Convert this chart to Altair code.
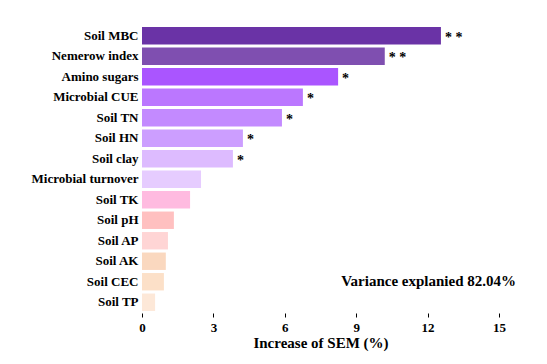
import altair as alt
import pandas as pd

factors = ["Soil MBC", "Nemerow index", "Amino sugars", "Microbial CUE", "Soil TN",
           "Soil HN", "Soil clay", "Microbial turnover", "Soil TK", "Soil pH",
           "Soil AP", "Soil AK", "Soil CEC", "Soil TP"]
values = [12.56, 10.2, 8.24, 6.76, 5.88, 4.24, 3.82, 2.48, 2.02, 1.34, 1.09, 1.0, 0.92, 0.55]
signif = ["* *", "* *", "*", "*", "*", "*", "*", "", "", "", "", "", "", ""]
colors = ["#6A33A6", "#7F4FB0", "#AA55FF", "#BB77FF", "#C38AFF", "#CC9EFF", "#DDBBFF",
          "#E6CCFF", "#FFBBE0", "#FFC0C0", "#FFD5D5", "#FAD8BF", "#FCE0C8", "#FDE8D8"]
annotation = "Variance explanied 82.04%"

df = pd.DataFrame({"factor": factors, "value": values, "sig": signif})

FONT = "'Liberation Serif', 'Times New Roman', Times, serif"

y = alt.Y("factor:N", sort=factors, title=None,
          scale=alt.Scale(paddingInner=0.15, paddingOuter=0.1),
          axis=alt.Axis(domain=False, ticks=False, labelFont=FONT, labelFontSize=13,
                        labelFontWeight="bold", labelColor="black", labelPadding=4))
x = alt.X("value:Q", title="Increase of SEM (%)",
          scale=alt.Scale(domain=[0, 15], nice=False),
          axis=alt.Axis(values=[0, 3, 6, 9, 12, 15], grid=False, domain=False,
                        labelFlush=False,
                        tickSize=4, tickColor="black", labelFont=FONT, labelFontSize=13,
                        labelFontWeight="bold", labelColor="black", labelPadding=4,
                        titleFont=FONT, titleFontSize=15, titleFontWeight="bold",
                        titleColor="black", titlePadding=1))

bars = alt.Chart(df).mark_bar().encode(
    x=x, y=y,
    color=alt.Color("factor:N", scale=alt.Scale(domain=factors, range=colors), legend=None),
)

stars = alt.Chart(df).mark_text(align="left", baseline="middle", dx=4, dy=2,
                                font=FONT, fontSize=14, fontWeight="bold", color="black").encode(
    x="value:Q", y=alt.Y("factor:N", sort=factors), text="sig:N"
)

note = alt.Chart(pd.DataFrame({"t": [annotation]})).mark_text(
    align="right", baseline="middle", font=FONT, fontSize=15, fontWeight="bold", color="black"
).encode(x=alt.value(374), y=alt.value(256), text="t:N")

chart = (bars + stars + note).properties(
    width=357, height=288,
    autosize=alt.AutoSizeParams(type="none"),
    padding={"left": 134, "top": 17, "right": 40, "bottom": 40},
).configure_view(stroke=None)

chart.save("out.html", embed_options={"renderer": "svg", "actions": False})
